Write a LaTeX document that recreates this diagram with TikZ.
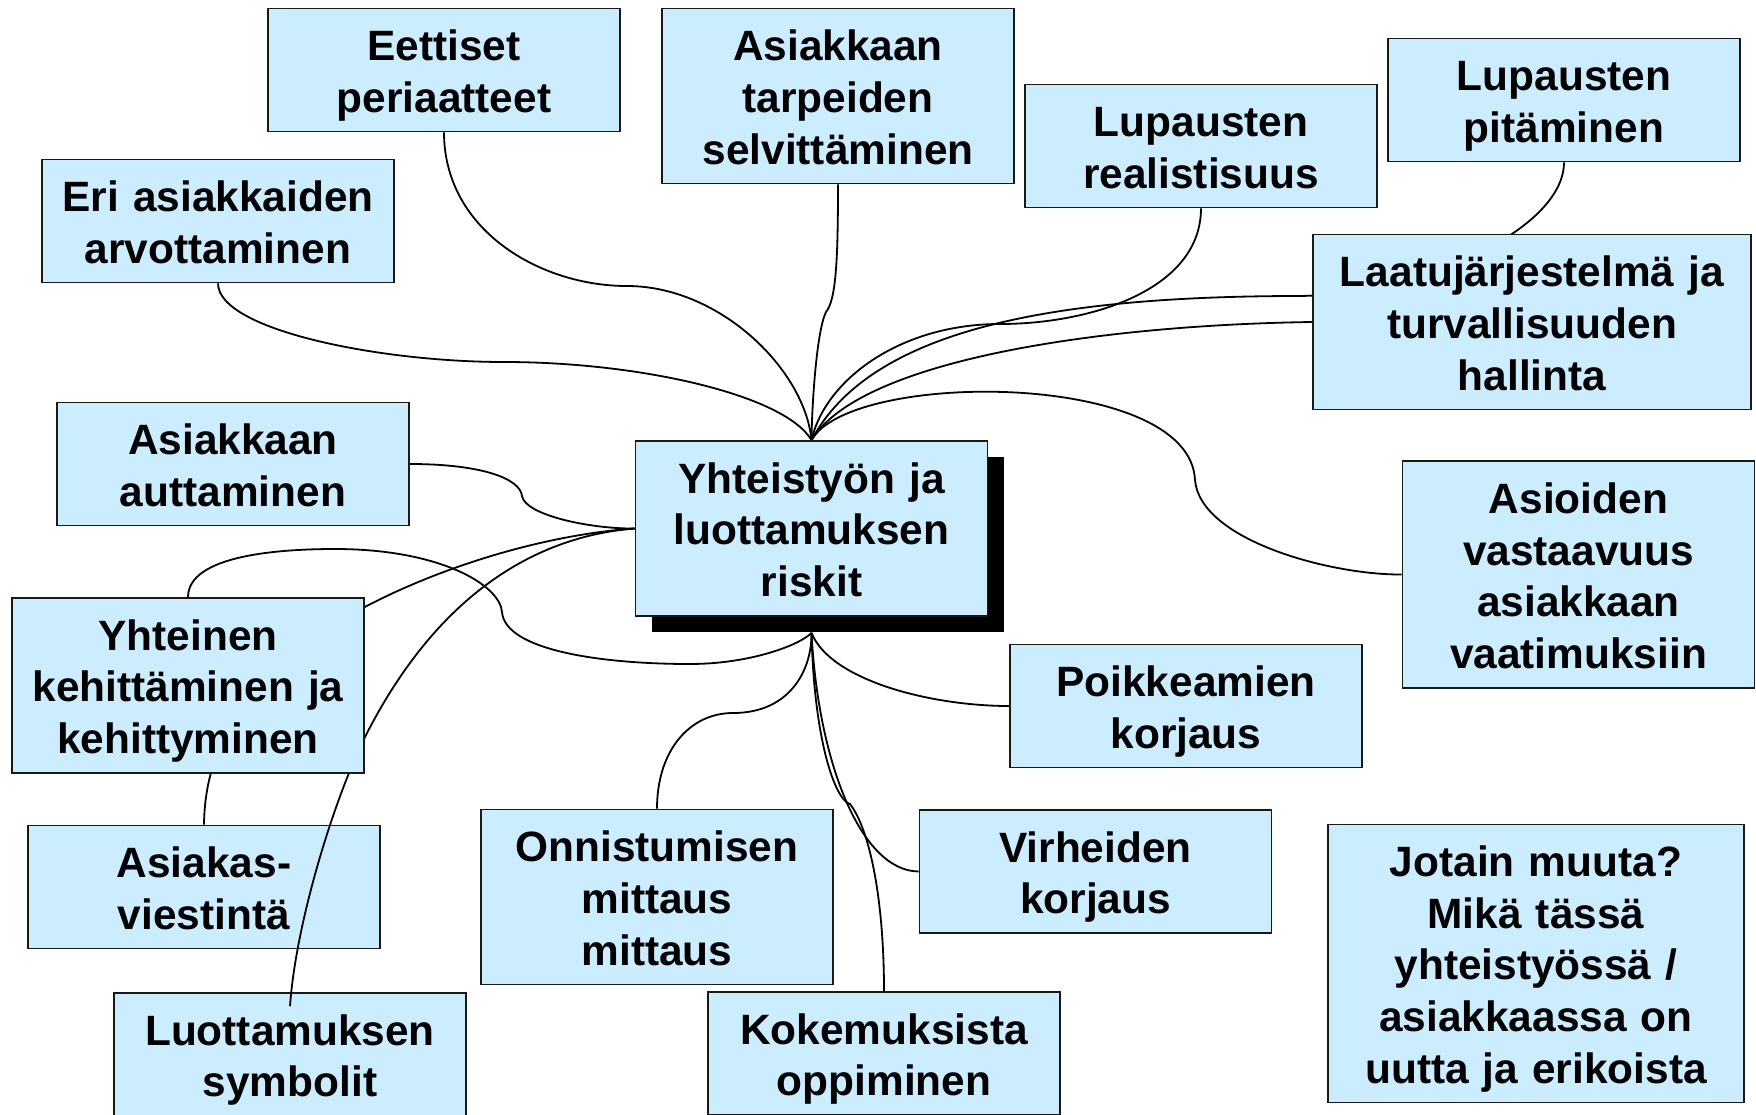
\documentclass[tikz,border=0pt]{standalone}
\usepackage{fontspec}
\setmainfont{Liberation Sans}
\usepackage{tikz}
\usetikzlibrary{shadows}
\definecolor{laatikko}{RGB}{204,236,255}
\pgfdeclarelayer{taka}
\pgfdeclarelayer{etu}
\pgfsetlayers{taka,main,etu}

\begin{document}
\begin{tikzpicture}[x=0.5pt, y=-0.5pt,
    laatu/.style={draw=black!90, line width=0.8pt, fill=laatikko, align=center,
      inner sep=0pt, minimum width=176pt, minimum height=61.5pt, text width=170pt,
      font=\fontsize{21.2pt}{25.9pt}\selectfont\bfseries,
      execute at begin node={\rule{0pt}{21pt}},
      execute at end node={\rule[-4.6pt]{0pt}{4.6pt}}},
    kolme/.style={laatu, minimum height=87.5pt},
    yhteys/.style={line width=0.9pt}]
  \useasboundingbox (0,0) rectangle (1756,1114);

  \node[laatu] (eettiset) at (444,70) {Eettiset\\periaatteet};
  \node[kolme] (tarpeet) at (838,96) {Asiakkaan\\tarpeiden\\selvittäminen};
  \node[laatu] (realismi) at (1201,146) {Lupausten\\realistisuus};
  \node[laatu] (pitaminen) at (1564,100) {Lupausten\\pitäminen};
  \node[laatu] (arvottaminen) at (218,221) {Eri asiakkaiden\\arvottaminen};
  \node[kolme, minimum width=219pt, text width=213pt] (jarjestelma) at (1532,322)
    {Laatujärjestelmä ja\\turvallisuuden\\hallinta};
  \node[laatu] (auttaminen) at (233,464) {Asiakkaan\\auttaminen};
  \node[kolme, drop shadow={fill=black, opacity=1, shadow xshift=8pt, shadow yshift=-8pt}]
    (riskit) at (811.5,528.5) {Yhteistyön ja\\luottamuksen\\riskit};
  \node[laatu, minimum height=113.5pt] (vastaavuus) at (1578.5,574.5)
    {Asioiden\\vastaavuus\\asiakkaan\\vaatimuksiin};
  \node[laatu] (poikkeamat) at (1186,706) {Poikkeamien\\korjaus};
  \node[laatu] (viestinta) at (204,887) {Asiakas-\\viestintä};
  \node[kolme] (onnistuminen) at (657,897) {Onnistumisen\\mittaus\\mittaus};
  \node[laatu] (virheet) at (1095.5,871.5) {Virheiden\\korjaus};
  \node[laatu, minimum width=208pt, text width=202pt, minimum height=139pt] (jotain)
    at (1536,963.5)
    {Jotain muuta?\\Mikä tässä\\yhteistyössä /\\asiakkaassa on\\uutta ja erikoista};
  \node[laatu] (symbolit) at (290,1054.5) {Luottamuksen\\symbolit};
  \node[laatu] (kokemukset) at (884,1053.5) {Kokemuksista\\oppiminen};
  \begin{pgfonlayer}{etu}
    \node[kolme] (yhteinen) at (188,685.5) {Yhteinen\\kehittäminen ja\\kehittyminen};
  \end{pgfonlayer}
  \coordinate (riskit-ala) at ([yshift=-8pt]riskit.south);

  \begin{pgfonlayer}{taka}
    \draw[yhteys] (eettiset.south) .. controls (444,230) and (540,286) .. (627,286)
      .. controls (720,286) and (805,370) .. (riskit.north);
    \draw[yhteys] (tarpeet.south) .. controls (838,260) and (836,300) .. (826,312)
      .. controls (817,330) and (812,400) .. (riskit.north);
    \draw[yhteys] (realismi.south) .. controls (1201,290) and (1090,324) .. (1000,324)
      .. controls (900,324) and (825,380) .. (riskit.north);
    \draw[yhteys] (pitaminen.south) .. controls (1564,230) and (1420,294) .. (1300,296)
      .. controls (1050,296) and (870,330) .. (riskit.north);
    \draw[yhteys] (jarjestelma.west) .. controls (1100,325) and (860,360) .. (riskit.north);
    \draw[yhteys] (arvottaminen.south) .. controls (218,330) and (380,362) .. (504,362)
      .. controls (640,362) and (785,395) .. (riskit.north);
    \draw[yhteys] (riskit.north) .. controls (850,370) and (1190,370) .. (1195,480)
      .. controls (1200,540) and (1330,575) .. (vastaavuus.west);
    \draw[yhteys] (auttaminen.east) .. controls (480,464) and (520,478) .. (522,496)
      .. controls (525,515) and (590,529) .. (riskit.west);
    \draw[yhteys] (riskit.west) .. controls (540,535) and (430,570) .. (350,615)
      .. controls (250,680) and (205,740) .. (viestinta.north);
    \draw[yhteys] (yhteinen.north) .. controls (188,555) and (280,549) .. (335,549)
      .. controls (440,549) and (500,585) .. (502,612)
      .. controls (505,650) and (600,664) .. (690,664)
      .. controls (750,664) and (800,645) .. (riskit-ala);
    \draw[yhteys] (onnistuminen.north) .. controls (657,750) and (690,713) .. (733,713)
      .. controls (790,713) and (812,670) .. (riskit-ala);
    \draw[yhteys] (poikkeamat.west) .. controls (930,706) and (830,680) .. (riskit-ala);
    \draw[yhteys] (virheet.west) .. controls (860,871) and (818,760) .. (riskit-ala);
    \draw[yhteys] (kokemukset.north) .. controls (884,900) and (870,830) .. (850,804)
      .. controls (835,800) and (814,740) .. (riskit-ala);
  \end{pgfonlayer}

  \draw[yhteys] (riskit.west) .. controls (540,536) and (440,590) .. (366,735)
    .. controls (336,794) and (296,920) .. ([yshift=-7pt]symbolit.north);
\end{tikzpicture}
\end{document}
